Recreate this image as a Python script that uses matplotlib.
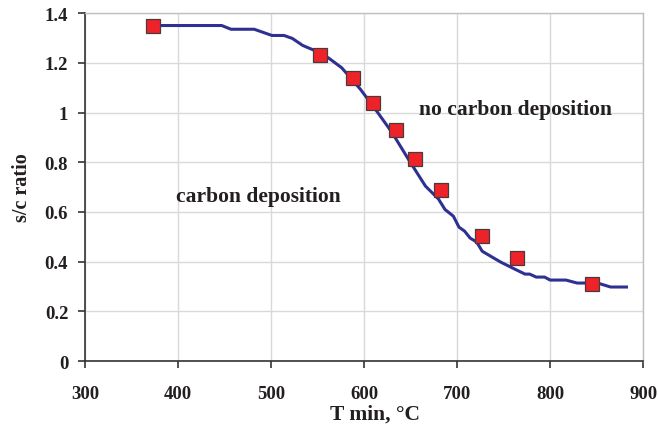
import matplotlib
matplotlib.use("Agg")
import matplotlib.pyplot as plt

# Curve (boundary)
line_T = [380, 447, 457, 482, 501, 514, 523, 534, 551, 562, 576, 596, 612, 630, 648,
          666, 680, 687, 696, 702, 708, 714, 721, 727, 736, 747, 762, 773, 778, 785,
          794, 800, 817, 829, 851, 865, 882]
line_sc = [1.35, 1.35, 1.335, 1.335, 1.31, 1.31, 1.298, 1.27, 1.243, 1.219, 1.18, 1.094,
           1.014, 0.92, 0.81, 0.704, 0.652, 0.61, 0.583, 0.539, 0.523, 0.495, 0.479,
           0.442, 0.422, 0.398, 0.37, 0.35, 0.35, 0.338, 0.338, 0.326, 0.326, 0.314,
           0.314, 0.298, 0.298]

# Square markers
pts_T = [373, 553, 588, 610, 634, 655, 683, 727, 764, 845]
pts_sc = [1.35, 1.231, 1.138, 1.038, 0.929, 0.8125, 0.688, 0.505, 0.414, 0.312]

plt.rcParams['font.family'] = ['Liberation Serif', 'DejaVu Serif']
plt.rcParams['font.weight'] = 'bold'

fig = plt.figure(figsize=(6.58, 4.27), dpi=100)
ax = fig.add_axes([0.129, 0.152, 0.8485, 0.815])

ax.plot(line_T, line_sc, color='#2E3192', lw=2.2, zorder=3)
ax.plot(pts_T, pts_sc, ls='none', marker='s', ms=10.5, mfc='#EE2229',
        mec='#4a3a3a', mew=0.9, zorder=4)

ax.set_xlim(300, 900)
ax.set_ylim(0, 1.4)
ax.set_xticks(range(300, 901, 100))
ax.set_yticks([0, 0.2, 0.4, 0.6, 0.8, 1.0, 1.2, 1.4])
ax.set_yticklabels(['0', '0.2', '0.4', '0.6', '0.8', '1', '1.2', '1.4'])
ax.grid(True, color='#d9d9d9', lw=1)
ax.set_axisbelow(True)

for s in ['top', 'right']:
    ax.spines[s].set_color('#bfbfbf')
    ax.spines[s].set_linewidth(1)
for s in ['left', 'bottom']:
    ax.spines[s].set_color('#333333')
    ax.spines[s].set_linewidth(1.2)

ax.tick_params(axis='both', labelsize=13.5, length=5, width=1.2, color='#333333')
ax.tick_params(axis='x', pad=12.5)
ax.tick_params(axis='y', pad=7)
for lab in ax.get_xticklabels() + ax.get_yticklabels():
    lab.set_fontweight('bold')
    lab.set_color('#231f20')

ax.set_xlabel('T min, °C', fontsize=15.5, fontweight='bold', color='#231f20')
ax.xaxis.set_label_coords(0.52, -0.122)
ax.set_ylabel('s/c ratio', fontsize=14.5, fontweight='bold', color='#231f20')
ax.yaxis.set_label_coords(-0.094, 0.5)

ax.text(486, 0.664, 'carbon deposition', fontsize=15.5, fontweight='bold',
        ha='center', va='center', color='#231f20')
ax.text(763, 1.014, 'no carbon deposition', fontsize=15.5, fontweight='bold',
        ha='center', va='center', color='#231f20')

fig.savefig('out.png', dpi=100)
